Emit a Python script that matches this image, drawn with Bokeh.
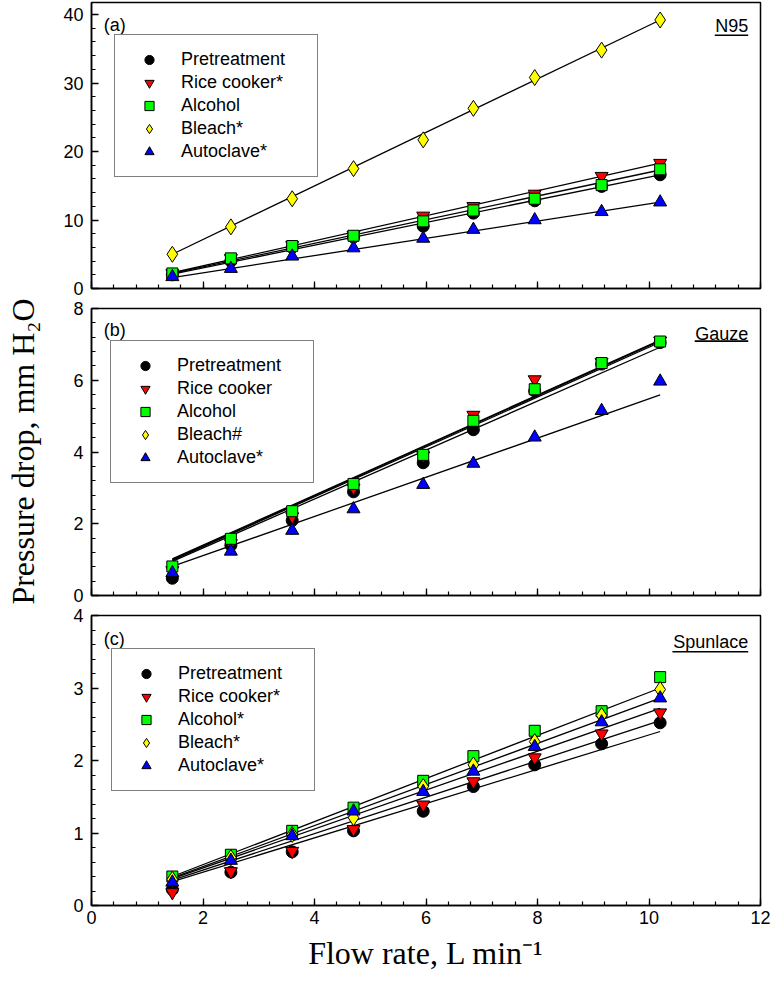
import math
from bokeh.plotting import figure
from bokeh.layouts import column, row
from bokeh.models import (Legend, LegendItem, Label, BoxAnnotation,
                          SingleIntervalTicker, Range1d, CustomJSTickFormatter)
from bokeh.embed import file_html
from bokeh.resources import INLINE

# ---------------- data ----------------
flow = [1.45, 2.5, 3.6, 4.7, 5.95, 6.85, 7.95, 9.15, 10.2]
fit_x = [1.45, 10.2]

# (a) N95
n95_pre = [2.0, 4.0, 6.0, 7.5, 9.1, 11.0, 12.8, 14.9, 16.6]
n95_rice = [2.2, 4.4, 6.3, 7.8, 10.6, 12.0, 13.8, 16.4, 18.3]
n95_alc = [2.2, 4.4, 6.2, 7.7, 9.8, 11.4, 13.1, 15.1, 17.4]
n95_bleach = [5.0, 9.0, 13.1, 17.5, 21.7, 26.3, 30.8, 34.8, 39.2]
n95_auto = [1.7, 2.9, 4.7, 5.9, 7.3, 8.6, 10.0, 11.2, 12.6]
n95_fit_pre = [2.1, 16.6]
n95_fit_rice = [2.3, 18.3]
n95_fit_alc = [2.2, 17.3]
n95_fit_bleach = [5.0, 39.2]
n95_fit_auto = [1.6, 12.6]

# (b) Gauze  (bleach points lie hidden beneath the alcohol squares)
gauze_pre = [0.48, 1.40, 2.09, 2.89, 3.70, 4.62, 5.70, 6.45, 7.05]
gauze_rice = [0.70, 1.45, 2.20, 3.00, 3.90, 5.03, 6.02, 6.50, 7.10]
gauze_alc = [0.81, 1.58, 2.35, 3.11, 3.92, 4.87, 5.75, 6.48, 7.08]
gauze_bleach = [0.81, 1.58, 2.35, 3.11, 3.92, 4.87, 5.75, 6.48, 7.08]
gauze_auto = [0.63, 1.23, 1.81, 2.41, 3.09, 3.68, 4.41, 5.15, 5.97]
gauze_fit_pre = [0.95, 6.92]
gauze_fit_rice = [1.02, 7.12]
gauze_fit_alc = [1.00, 7.10]
gauze_fit_bleach = [0.98, 7.06]
gauze_fit_auto = [0.81, 5.59]

# (c) Spunlace
spun_pre = [0.22, 0.46, 0.74, 1.03, 1.30, 1.64, 1.94, 2.23, 2.52]
spun_rice = [0.18, 0.47, 0.75, 1.05, 1.39, 1.71, 2.04, 2.37, 2.66]
spun_alc = [0.40, 0.70, 1.03, 1.35, 1.72, 2.06, 2.41, 2.68, 3.15]
spun_bleach = [0.36, 0.66, 0.98, 1.21, 1.64, 1.94, 2.26, 2.62, 2.98]
spun_auto = [0.32, 0.62, 0.96, 1.30, 1.57, 1.85, 2.19, 2.53, 2.86]
spun_fit_pre = [0.33, 2.40]
spun_fit_rice = [0.35, 2.55]
spun_fit_alc = [0.40, 3.00]
spun_fit_bleach = [0.38, 2.86]
spun_fit_auto = [0.37, 2.72]

labels_a = ["Pretreatment", "Rice cooker*", "Alcohol", "Bleach*", "Autoclave*"]
labels_b = ["Pretreatment", "Rice cooker", "Alcohol", "Bleach#", "Autoclave*"]
labels_c = ["Pretreatment", "Rice cooker*", "Alcohol*", "Bleach*", "Autoclave*"]

# ---------------- styles ----------------
STYLES = [
    dict(marker="circle", fill_color="black", size=12),
    dict(marker="inverted_triangle", fill_color="#FF0000", size=13),
    dict(marker="square", fill_color="#00FF00", size=11),
    dict(marker="diamond", fill_color="#FFFF00", size=16),
    dict(marker="triangle", fill_color="#0000FF", size=13),
]
SANS = "Liberation Sans"
SERIF = "Liberation Serif"
LEFT_W = 45          # width of the strip that carries the y title
FRAME_LEFT = 91      # frame left edge on the page


def make_panel(ymax, yint, frame_h, b_top, b_bottom, series, fits, labels,
               legend_loc, tag, tag_y, name, name_y, ul_y, ul_w, show_xlabels,
               order=(0, 1, 2, 3, 4), sizes=None):
    p = figure(frame_width=669, frame_height=frame_h,
               x_range=Range1d(0, 12), y_range=Range1d(0, ymax),
               output_backend="svg", toolbar_location=None,
               min_border_left=FRAME_LEFT - LEFT_W, min_border_right=11,
               min_border_top=b_top, min_border_bottom=b_bottom)
    p.xgrid.visible = False
    p.ygrid.visible = False
    p.outline_line_color = "black"
    p.outline_line_width = 1.5
    p.background_fill_color = "white"
    p.border_fill_color = "white"

    p.xaxis.ticker = SingleIntervalTicker(interval=2, num_minor_ticks=5)
    p.yaxis.ticker = SingleIntervalTicker(interval=yint, num_minor_ticks=5)
    for ax in (p.xaxis[0], p.yaxis[0]):
        ax.axis_line_width = 1.5
        ax.axis_line_color = "black"
        ax.major_tick_in = 7
        ax.major_tick_out = 0
        ax.minor_tick_in = 4
        ax.minor_tick_out = 0
        ax.major_tick_line_width = 1.3
        ax.minor_tick_line_width = 1.2
        ax.major_tick_line_color = "black"
        ax.minor_tick_line_color = "black"
        ax.major_label_text_font = SANS
        ax.major_label_text_font_size = "18px"
        ax.major_label_text_color = "black"
        ax.major_label_standoff = 8
    if not show_xlabels:
        p.xaxis.formatter = CustomJSTickFormatter(code="return ''")
        p.xaxis.major_label_standoff = 0
        p.xaxis.major_label_text_font_size = "1px"

    for fv in fits:
        if len(fv) == 2:
            p.line(fit_x, fv, line_color="black", line_width=1.3)

    rends = {}
    for i in order:
        vals, st = series[i], STYLES[i]
        size = st["size"] if sizes is None or sizes[i] is None else sizes[i]
        rends[i] = p.scatter(flow[:len(vals)], vals, marker=st["marker"],
                             size=size, fill_color=st["fill_color"],
                             line_color="black", line_width=1)
    items = [LegendItem(label=labels[i], renderers=[rends[i]]) for i in range(5)]

    leg = Legend(items=items, location=legend_loc, padding=13, spacing=0,
                 glyph_height=23, glyph_width=42, label_height=23,
                 label_width=123, label_standoff=11, margin=0,
                 label_text_font=SANS, label_text_font_size="18px",
                 label_text_color="black",
                 border_line_color="black", border_line_width=1.5,
                 background_fill_color="white", background_fill_alpha=1.0)
    p.add_layout(leg)

    p.add_layout(Label(x=0.22, y=tag_y, text=tag, text_font=SANS,
                       text_font_size="18px", text_baseline="middle",
                       text_align="left", text_color="black"))
    p.add_layout(Label(x=11.78, y=name_y, text=name, text_font=SANS,
                       text_font_size="18px", text_baseline="middle",
                       text_align="right", text_color="black"))
    th = 1.6 / (frame_h / ymax)
    p.add_layout(BoxAnnotation(left=11.78 - ul_w, right=11.78,
                               bottom=ul_y - th / 2, top=ul_y + th / 2,
                               fill_color="black", fill_alpha=1.0,
                               line_color=None))
    return p


pa = make_panel(286 / 6.85, 10, 286, 2, 11,
                [n95_pre, n95_rice, n95_alc, n95_bleach, n95_auto],
                [n95_fit_pre, n95_fit_rice, n95_fit_alc, n95_fit_bleach, n95_fit_auto],
                labels_a, (23, 111), "(a)", 38.47, "N95", 38.25, 36.98, 0.60, False)

pb = make_panel(8, 2, 287, 9, 11,
                [gauze_pre, gauze_rice, gauze_alc, gauze_bleach, gauze_auto],
                [gauze_fit_pre, gauze_fit_rice, gauze_fit_alc, gauze_fit_bleach, gauze_fit_auto],
                labels_b, (19, 112), "(b)", 7.39, "Gauze", 7.30, 7.09, 0.96, False,
                order=(0, 1, 3, 2, 4), sizes=[None, None, None, 9, None])

pc = make_panel(4, 1, 290, 9, 68,
                [spun_pre, spun_rice, spun_alc, spun_bleach, spun_auto],
                [spun_fit_pre, spun_fit_rice, spun_fit_alc, spun_fit_bleach, spun_fit_auto],
                labels_c, (20, 114), "(c)", 3.67, "Spunlace", 3.64, 3.50, 1.36, True)
pc.xaxis.axis_label = "Flow rate, L min\u207b\u00b9"
pc.xaxis.axis_label_text_font = SERIF
pc.xaxis.axis_label_text_font_size = "32px"
pc.xaxis.axis_label_text_font_style = "normal"
pc.xaxis.axis_label_text_color = "black"
pc.xaxis.axis_label_standoff = 8
pc.xaxis.major_label_standoff = 5

TOTAL_H = (2 + 286 + 11) + (9 + 287 + 11) + (9 + 290 + 68)
ylab = figure(frame_width=LEFT_W, frame_height=TOTAL_H,
              x_range=Range1d(0, LEFT_W), y_range=Range1d(TOTAL_H, 0),
              output_backend="svg", toolbar_location=None,
              min_border_left=0, min_border_right=0,
              min_border_top=0, min_border_bottom=0)
ylab.xaxis.visible = False
ylab.yaxis.visible = False
ylab.xgrid.visible = False
ylab.ygrid.visible = False
ylab.outline_line_color = None
ylab.add_layout(Label(x=22, y=451, text="Pressure drop, mm H\u2082O",
                      angle=math.pi / 2, text_align="center",
                      text_baseline="middle", text_font=SERIF,
                      text_font_size="32px", text_color="black"))

layout = row(ylab, column(pa, pb, pc, spacing=0), spacing=0)
open("out.html", "w").write(file_html(layout, INLINE, "Pressure drop"))
